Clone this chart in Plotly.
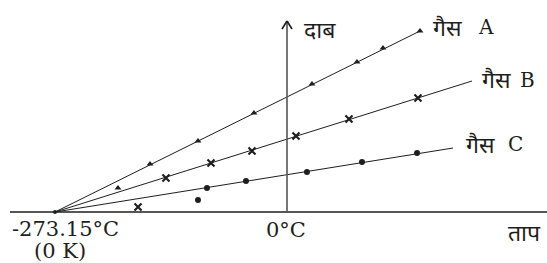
import plotly.graph_objects as go

W, H = 547, 263

# ---- data (temperature in °C, pressure in arbitrary units) ----
abs_zero = -273.15
gas_names = ["गैस", "गैस", "गैस"]
gas_letters = ["A", "B", "C"]

a_temp = [-161.3, -104.8, -38.9, 29.4, 82.4, 113.0, 156.6]
a_pres = [4.8, 7.1, 9.9, 12.8, 15.0, 16.4, 18.1]
b_temp = [-142.5, -89.5, -41.2, 10.6, 73.0, 154.2]
b_pres = [3.4, 4.9, 6.1, 7.6, 9.3, 11.4]
c_temp = [-94.2, -48.3, 23.5, 88.3, 153.1]
c_pres = [2.4, 3.1, 4.0, 5.0, 5.9]

# extrapolated line end points
line_end_temp = [156.6, 217.8, 195.5]
line_end_pres = [18.1, 13.1, 6.4]

# stray low-temperature readings
stray_a = (-199.0, 2.4)
stray_b = (-175.4, 0.5)
stray_c = (-104.8, 1.2)

# ---- pixel mapping helpers ----
X0PX, KX = 287.0, 232.0 / 273.15   # px of 0°C, px per °C
Y0PX, KY = 212.0, 10.0             # px of P=0, px per unit
xr = [(0 - X0PX) / KX, (W - X0PX) / KX]
yr = [(Y0PX - H) / KY, (Y0PX - 0) / KY]

def fx(px):
    return px / W

def fy(py):
    return 1 - py / H

INK = "#1e1e1e"
fig = go.Figure()

# lines from absolute zero
for et, ep in zip(line_end_temp, line_end_pres):
    fig.add_trace(go.Scatter(x=[abs_zero, et], y=[0, ep], mode="lines",
                             line=dict(color=INK, width=1), hoverinfo="skip",
                             showlegend=False))

fig.add_trace(go.Scatter(x=a_temp + [stray_a[0]], y=a_pres + [stray_a[1]], mode="markers",
                         marker=dict(symbol="triangle-up", size=6, color=INK),
                         showlegend=False))
fig.add_trace(go.Scatter(x=b_temp + [stray_b[0]], y=b_pres + [stray_b[1]], mode="markers",
                         marker=dict(symbol="x-thin", size=7, line=dict(width=2.2, color=INK)),
                         showlegend=False))
fig.add_trace(go.Scatter(x=c_temp + [stray_c[0]], y=c_pres + [stray_c[1]], mode="markers",
                         marker=dict(symbol="circle", size=6, color=INK),
                         showlegend=False))
fig.add_trace(go.Scatter(x=[abs_zero], y=[0], mode="markers",
                         marker=dict(symbol="circle", size=4, color=INK),
                         showlegend=False))

# axes drawn as shapes
shapes = [
    dict(type="line", xref="paper", yref="y", x0=fx(10), x1=1, y0=0, y1=0,
         line=dict(color=INK, width=1.6)),
    dict(type="line", xref="x", yref="paper", x0=0, x1=0, y0=fy(212), y1=fy(21),
         line=dict(color="#555555", width=1.6)),
    dict(type="line", xref="x", yref="paper", x0=-5 / KX, x1=0, y0=fy(29), y1=fy(21),
         line=dict(color=INK, width=1.6)),
    dict(type="line", xref="x", yref="paper", x0=5 / KX, x1=0, y0=fy(29), y1=fy(21),
         line=dict(color=INK, width=1.6)),
]

SERIF = "DejaVu Serif"
DEV = "Noto Sans, Noto Sans Devanagari, sans-serif"
ann = []
def text(t, px, py, size, fam, anchor="center"):
    ann.append(dict(text=t, x=fx(px), y=fy(py), xref="paper", yref="paper",
                    showarrow=False, xanchor=anchor, yanchor="middle",
                    font=dict(family=fam, size=size, color=INK)))

text("-273.15°C", 65, 229, 21, SERIF)
text("(0 K)", 60, 251, 21, SERIF)
text("0°C", 286, 230, 21, SERIF)
text("ताप", 524, 232, 23, DEV)
text("दाब", 320, 29, 23, DEV)
label_pos = [(447, 27, 486, 27), (496, 79, 527, 80), (480, 144, 515, 144)]
for name, letter, (gx, gy, lx, ly) in zip(gas_names, gas_letters, label_pos):
    text(name, gx, gy, 23, DEV)
    text(letter, lx, ly, 20, SERIF)

fig.update_layout(width=W, height=H, margin=dict(l=0, r=0, t=0, b=0),
                  paper_bgcolor="white", plot_bgcolor="white",
                  xaxis=dict(range=xr, visible=False, fixedrange=True),
                  yaxis=dict(range=yr, visible=False, fixedrange=True),
                  shapes=shapes, annotations=ann)
fig.write_html("out.html", config=dict(displayModeBar=False),
               post_script="document.body.style.margin='0';document.body.style.padding='0';")
